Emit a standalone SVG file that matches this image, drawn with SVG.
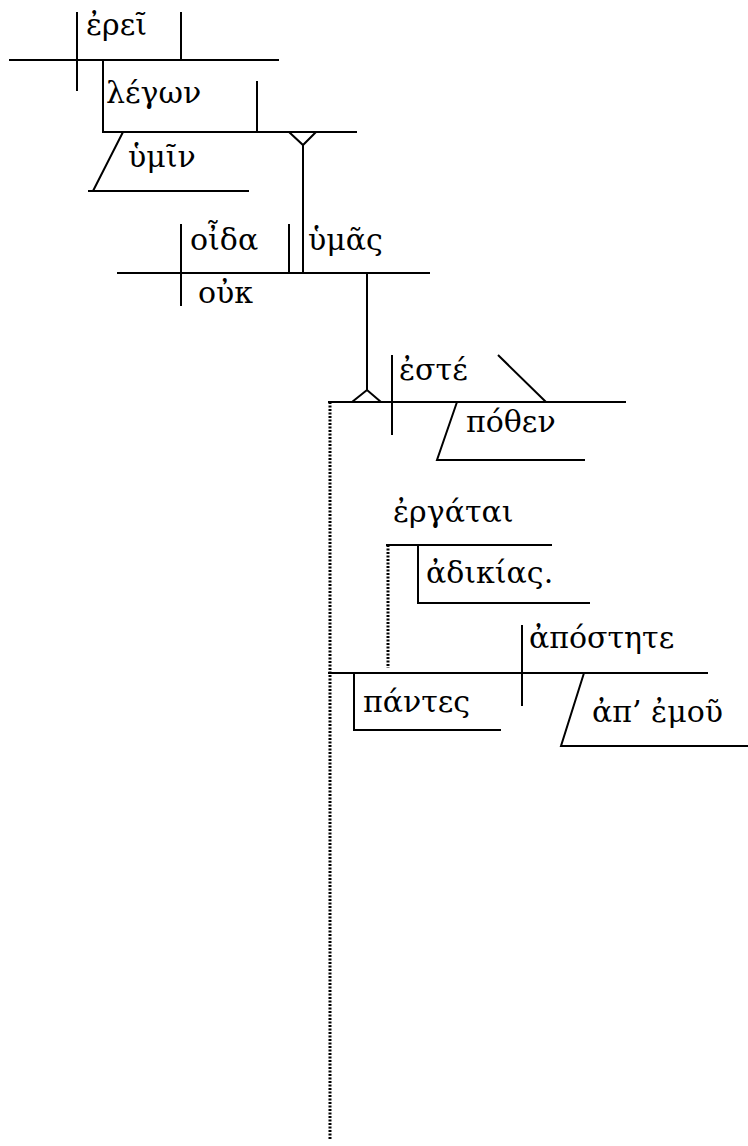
<svg xmlns="http://www.w3.org/2000/svg" width="748" height="1146" viewBox="0 0 748 1146">
<style>
.l{stroke:#000;stroke-width:2;fill:none}
.d{stroke:#000;stroke-width:3;fill:none;stroke-dasharray:2 1.5}
text{font-family:"DejaVu Serif","Noto Sans",serif;font-size:30px;fill:#000}
</style>
<rect width="748" height="1146" fill="#fff"/>
<g id="connectors">
<path class="l" d="M9,60H279 M77,12V91 M181,12V60"/>
<path class="l" d="M103,60V132H357 M257,81V132"/>
<path class="l" d="M123,132L93,191 M88,191H249"/>
<path class="l" d="M289,132L303,145L316,132 M303,145V273"/>
<path class="l" d="M117,273H430 M181,224V306 M289,224V273"/>
<path class="l" d="M367,273V390 M352,402L367,390L381,402"/>
<path class="l" d="M328,402H626 M392,355V435 M498,355L546,402"/>
<path class="l" d="M457,402L437,460H585"/>
<path class="d" d="M330,402V1140"/>
<path class="l" d="M386,545H552 M418,545V603H590"/>
<path class="d" d="M388,545V668"/>
<path class="l" d="M328,673H708 M522,625V706"/>
<path class="l" d="M354,673V730H501"/>
<path class="l" d="M584,673L561,746H748"/>
</g>
<g id="n1"><text x="86" y="35">ἐρεῖ</text></g>
<g id="n2"><text x="106" y="103">λέγων</text></g>
<g id="n3"><text x="128" y="167">ὑμῖν</text></g>
<g id="n4"><text x="190" y="250">οἶδα</text></g>
<g id="n5"><text x="308" y="250">ὑμᾶς</text></g>
<g id="n6"><text x="198" y="303">οὐκ</text></g>
<g id="n7"><text x="399" y="380">ἐστέ</text></g>
<g id="n8"><text x="466" y="432">πόθεν</text></g>
<g id="n9"><text x="393" y="522">ἐργάται</text></g>
<g id="n10"><text x="426" y="583">ἀδικίας.</text></g>
<g id="n11"><text x="529" y="648">ἀπόστητε</text></g>
<g id="n12"><text x="363" y="712">πάντες</text></g>
<g id="n13"><text x="592" y="722">ἀπ’ ἐμοῦ</text></g>
</svg>
